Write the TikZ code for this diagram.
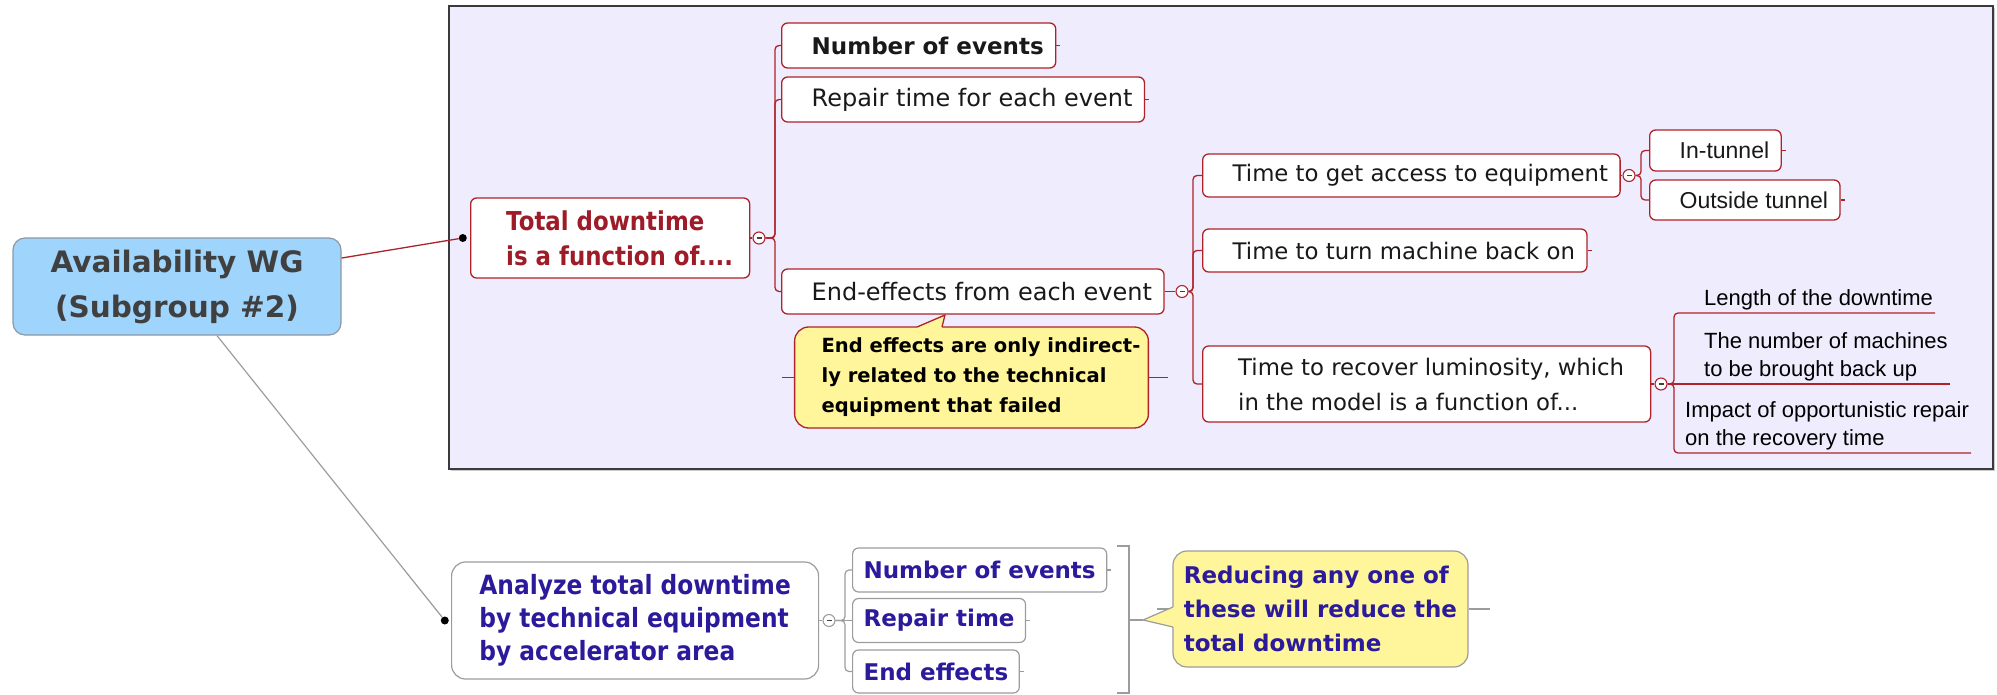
\documentclass[tikz,border=0pt]{standalone}
\usepackage{fontspec}
\setmainfont{DejaVu Sans}
\newfontfamily\condFont[FakeStretch=0.88]{DejaVu Sans}
\newfontfamily\helvFont{Liberation Sans}
\usepackage{xcolor}
\usetikzlibrary{positioning,calc}
\definecolor{frameFill}{HTML}{EFECFD}
\definecolor{frameDraw}{HTML}{3A3A3A}
\definecolor{redLine}{HTML}{AE2229}
\definecolor{redText}{HTML}{9E1B28}
\definecolor{blueText}{HTML}{2B1A9B}
\definecolor{rootFill}{HTML}{9FD4FC}
\definecolor{rootDraw}{HTML}{8C98A6}
\definecolor{noteFill}{HTML}{FFF59B}
\definecolor{greyLine}{HTML}{9C9C9C}
\definecolor{darkText}{HTML}{404040}
\newcommand{\pad}[1]{\hspace*{#1pt}}
\newcommand{\collapseMark}{\textcolor{black!75}{\rule{5pt}{1.3pt}}}
\tikzset{
  redLink/.style={draw=redLine, line width=1.3pt, rounded corners=4pt},
  greyLink/.style={draw=greyLine, line width=1.2pt, rounded corners=4pt},
  redStub/.style={draw=redLine, line width=1.3pt},
  greyStub/.style={draw=greyLine, line width=1.2pt},
  redBox/.style={draw=redLine, line width=1.3pt, fill=white, rounded corners=6pt, anchor=west, inner ysep=0pt, inner xsep=12pt, text=black!90},
  redLeaf/.style={redBox, font=\fontsize{24}{29}\selectfont, execute at begin node={\hspace*{18pt}}},
  greyBox/.style={draw=greyLine, line width=1.2pt, fill=white, rounded corners=6pt, anchor=west, inner ysep=0pt, inner xsep=11pt, text=blueText, font=\bfseries\fontsize{23}{29}\selectfont},
  collapseRed/.style={circle, draw=redLine, fill=white, line width=1.1pt, inner sep=0pt, minimum size=12pt},
  collapseGrey/.style={collapseRed, draw=greyLine},
  dotNode/.style={circle, fill=black, inner sep=0pt, minimum size=8pt},
  ulText/.style={font=\helvFont\fontsize{22}{28}\selectfont, align=left, anchor=south west, inner xsep=2pt, inner ysep=3pt},
  noteBox/.style={fill=noteFill, line width=1.3pt, rounded corners=14pt, align=left}
}
\begin{document}
\begin{tikzpicture}[x=1pt, y=-1pt]
  \useasboundingbox (0,0) rectangle (1997,694);

  % boundary round the first branch
  \fill[black!20] (451,8) rectangle (1995,471);
  \draw[fill=frameFill, draw=frameDraw, line width=2pt] (449,6) rectangle (1993,469);

  % central topic
  \node[draw=rootDraw, line width=1.2pt, fill=rootFill, rounded corners=12pt, minimum width=328pt, minimum height=97pt, align=center, text=darkText, font=\bfseries\fontsize{29.5}{45}\selectfont] (root) at (177,286.5) {Availability WG\\(Subgroup \#2)};

  % first branch
  \node[redBox, minimum width=279pt, minimum height=80pt, align=left, text=redText, font=\condFont\bfseries\fontsize{26}{35}\selectfont] (td) at (470,238) {\pad{19}Total downtime\\\pad{19}is a function of....};
  \node[dotNode, left=3pt of td] (tdDot) {};
  \node[collapseRed] (tdC) at (759,238) {\collapseMark};
  \coordinate (tdBar) at (775,238);
  \draw[redStub] (td.east) -- (tdC.west);

  \node[redLeaf, font=\bfseries\fontsize{23}{29}\selectfont, minimum height=45pt] (nev) at (781,45.5) {Number of events};
  \node[redLeaf, minimum height=45pt] (rep) at (781,99.5) {Repair time for each event};
  \node[redLeaf, minimum height=45pt] (endf) at (781,291.5) {End-effects from each event};
  \foreach \c in {nev,rep,endf}
    \draw[redLink] (tdC.east) -- (tdBar) |- (\c.west);
  \foreach \c in {nev,rep}
    \draw[redStub] (\c.east) -- ++(4,0);

  % end effects
  \node[collapseRed] (endC) at (1182,291.5) {\collapseMark};
  \coordinate (endBar) at (1193,291.5);
  \draw[redStub] (endf.east) -- (endC.west);
  \node[redLeaf, font=\fontsize{22.8}{29}\selectfont, minimum height=43pt] (acc) at (1202,175.5) {Time to get access to equipment};
  \node[redLeaf, font=\fontsize{22.8}{29}\selectfont, minimum height=43pt] (turn) at (1202,250.5) {Time to turn machine back on};
  \node[redBox, minimum width=448pt, minimum height=76pt, align=left, font=\fontsize{22.8}{35}\selectfont] (rec) at (1202,384) {\pad{9}Time to recover luminosity, which\\\pad{9}in the model is a function of...};
  \foreach \c in {acc,turn,rec}
    \draw[redLink] (endC.east) -- (endBar) |- (\c.west);
  \draw[redStub] (turn.east) -- ++(4,0);

  % access
  \node[collapseRed] (accC) at (1629,175.5) {\collapseMark};
  \coordinate (accBar) at (1641,175.5);
  \draw[redStub] (acc.east) -- (accC.west);
  \node[redLeaf, font=\helvFont\fontsize{23}{28}\selectfont, minimum height=41pt] (inT) at (1649,150.5) {In-tunnel};
  \node[redLeaf, font=\helvFont\fontsize{23}{28}\selectfont, minimum height=40pt] (outT) at (1649,200) {Outside tunnel};
  \foreach \c in {inT,outT}
    \draw[redLink] (accC.east) -- (accBar) |- (\c.west);
  \foreach \c in {inT,outT}
    \draw[redStub] (\c.east) -- ++(4,0);

  % recovery
  \node[collapseRed] (recC) at (1661,384) {\collapseMark};
  \coordinate (recBar) at (1674,384);
  \draw[redStub] (rec.east) -- (recC.west);
  \node[ulText] (len) at (1702,313) {Length of the downtime};
  \node[ulText] (mach) at (1702,384) {The number of machines\\to be brought back up};
  \node[ulText] (imp) at (1683,453) {Impact of opportunistic repair\\on the recovery time};
  \foreach \c in {len,imp}
    \draw[redLink] (recC.east) -- (recBar) |- (\c.south east);
  \draw[redStub] (recC.east) -- (mach.south east);

  % note on end effects
  \node[noteBox, draw=redLine, minimum width=353pt, minimum height=101pt, inner xsep=8pt, font=\bfseries\fontsize{19.5}{30}\selectfont] (note1) at (971.5,377.5) {\pad{19}End effects are only indirect-\\\pad{19}ly related to the technical\\\pad{19}equipment that failed};
  \coordinate (tip1) at (945,315);
  \fill[noteFill] (917,327) -- (tip1) -- (942,327) -- (942,330) -- (917,330) -- cycle;
  \draw[redStub, line join=round] (917,327) -- (tip1) -- (942,327);
  \draw[redStub] (note1.west) -- ++(-12,0);
  \draw[redStub] (note1.east) -- ++(19,0);

  % second branch
  \node[draw=greyLine, line width=1.2pt, fill=white, rounded corners=14pt, anchor=west, minimum width=367pt, minimum height=117pt, align=left, text=blueText, font=\condFont\bfseries\fontsize{26.5}{33}\selectfont] (an) at (451,620.5) {Analyze total downtime\\by technical equipment\\by accelerator area};
  \node[dotNode, left=2pt of an] (anDot) {};
  \node[collapseGrey] (anC) at (829,620.5) {\collapseMark};
  \coordinate (anBar) at (845,620.5);
  \draw[greyStub] (an.east) -- (anC.west);
  \node[greyBox, minimum height=44pt] (bnev) at (852,570) {Number of events};
  \node[greyBox, minimum height=44pt] (brep) at (852,620.5) {Repair time};
  \node[greyBox, minimum height=43pt] (bend) at (852,671.5) {End effects};
  \foreach \c in {bnev,bend}
    \draw[greyLink] (anC.east) -- (anBar) |- (\c.west);
  \draw[greyStub] (anC.east) -- (brep.west);
  \foreach \c in {bnev,brep,bend}
    \draw[greyStub] (\c.east) -- ++(4,0);

  % bracket and its note
  \coordinate (brTop) at (1129,546);
  \coordinate (brMid) at (1129,620);
  \coordinate (brBot) at (1129,693);
  \draw[greyStub] (1117,546) -- (brTop) -- (brBot) -- (1117,693);
  \node[noteBox, draw=greyLine, line width=1.2pt, minimum width=295pt, minimum height=116pt, inner xsep=10pt, text=blueText, font=\bfseries\fontsize{23}{34}\selectfont] (note2) at (1320.5,609) {Reducing any one of\\these will reduce the\\total downtime};
  \coordinate (tip2) at (1143,620);
  \draw[greyStub] (note2.west) -- ++(-15,0);
  \draw[greyStub] (note2.east) -- ++(21,0);
  \fill[noteFill] (1173,607) -- (tip2) -- (1173,627) -- (1176,627) -- (1176,607) -- cycle;
  \draw[greyStub, line join=round] (1173,607) -- (tip2) -- (1173,627);
  \draw[greyStub] (brMid) -- (tip2);

  % links from the central topic
  \coordinate (rootR) at ($(root.north east)!0.21!(root.south east)$);
  \coordinate (rootB) at ($(root.south)+(40,0)$);
  \draw[redStub] (rootR) -- (tdDot);
  \draw[greyStub] (rootB) -- (anDot);
\end{tikzpicture}
\end{document}
